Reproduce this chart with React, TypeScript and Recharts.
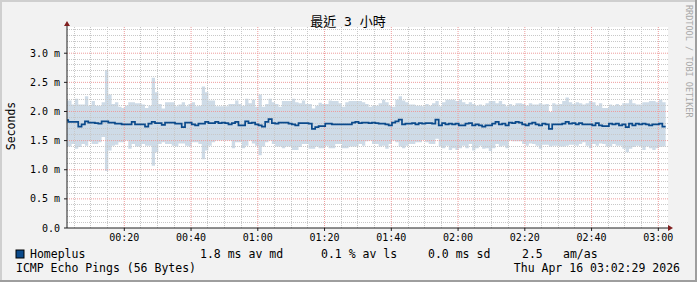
import React from 'react';
import { ComposedChart, Area, Line, XAxis, YAxis, CartesianGrid, ReferenceLine } from 'recharts';

// one bin per minute, first bin starts at 00:02:12
const START_MIN = 2.2;
const STEP_MIN = 1;

// smoke upper edge (ms)
const smokeHigh = [
  2.19, 2.19, 2.12, 2.22, 2.12, 2.12, 2.26, 2.10, 2.18, 2.10,
  2.10, 2.16, 2.71, 2.29, 2.13, 2.16, 2.08, 2.06, 2.10, 2.16,
  2.16, 2.14, 2.14, 2.12, 2.06, 2.10, 2.58, 2.33, 2.13, 2.05,
  2.16, 2.16, 2.16, 2.09, 2.12, 2.16, 2.09, 2.13, 2.16, 2.09,
  2.10, 2.43, 2.33, 2.19, 2.19,
  2.09, 2.09, 2.09, 2.09, 2.13, 2.13, 2.19, 2.13, 2.10, 2.22,
  2.14, 2.20, 2.08, 2.29, 2.08, 2.13, 2.22, 2.16, 2.13, 2.08,
  2.18, 2.18, 2.18, 2.22, 2.16, 2.14, 2.19, 2.13, 2.13, 2.05,
  2.10, 2.15, 2.13, 2.13, 2.19, 2.18, 2.18, 2.14, 2.08, 2.16,
  2.18, 2.18, 2.18, 2.18, 2.16,
  2.13, 2.08, 2.10, 2.10, 2.14, 2.20, 2.16, 2.10, 2.08, 2.20,
  2.26, 2.19, 2.16, 2.12, 2.12, 2.10, 2.10, 2.09, 2.13, 2.10,
  2.14, 2.18, 2.09, 2.16, 2.20, 2.20, 2.20, 2.18, 2.20, 2.16,
  2.13, 2.16, 2.13, 2.10, 2.12, 2.10, 2.14, 2.18, 2.18, 2.14,
  2.18, 2.13, 2.09, 2.13, 2.10,
  2.14, 2.14, 2.13, 2.10, 2.14, 2.12, 2.12, 2.14, 2.12, 2.13,
  1.99, 2.14, 2.12, 2.13, 2.18, 2.24, 2.16, 2.13, 2.16, 2.14,
  2.12, 2.14, 2.18, 2.16, 2.10, 2.14, 2.06, 2.06, 2.12, 2.10,
  2.13, 2.10, 2.14, 2.14, 2.20, 2.14, 2.12, 2.12, 2.16, 2.16,
  2.18, 2.18, 2.16, 2.20, 2.16,
];

// smoke lower edge (ms)
const smokeLow = [
  1.40, 1.40, 1.44, 1.36, 1.39, 1.44, 1.41, 1.49, 1.44, 1.44,
  1.47, 1.56, 0.98, 1.33, 1.41, 1.43, 1.47, 1.47, 1.50, 1.36,
  1.44, 1.40, 1.40, 1.44, 1.41, 1.41, 1.07, 1.30, 1.44, 1.47,
  1.44, 1.44, 1.41, 1.40, 1.45, 1.45, 1.41, 1.40, 1.47, 1.47,
  1.44, 1.18, 1.33, 1.41, 1.47,
  1.50, 1.50, 1.50, 1.50, 1.50, 1.37, 1.47, 1.47, 1.37, 1.41,
  1.50, 1.45, 1.41, 1.25, 1.40, 1.47, 1.50, 1.44, 1.40, 1.40,
  1.37, 1.40, 1.40, 1.34, 1.34, 1.39, 1.44, 1.44, 1.36, 1.36,
  1.40, 1.37, 1.37, 1.41, 1.37, 1.37, 1.44, 1.44, 1.37, 1.37,
  1.40, 1.40, 1.40, 1.44, 1.41,
  1.49, 1.50, 1.44, 1.44, 1.40, 1.41, 1.36, 1.44, 1.50, 1.47,
  1.40, 1.37, 1.41, 1.44, 1.44, 1.47, 1.47, 1.51, 1.47, 1.44,
  1.44, 1.53, 1.40, 1.37, 1.41, 1.34, 1.37, 1.34, 1.37, 1.41,
  1.37, 1.44, 1.33, 1.37, 1.41, 1.36, 1.37, 1.32, 1.37, 1.44,
  1.40, 1.41, 1.37, 1.50, 1.49,
  1.49, 1.49, 1.44, 1.41, 1.45, 1.44, 1.41, 1.36, 1.43, 1.43,
  1.40, 1.41, 1.41, 1.40, 1.40, 1.41, 1.43, 1.43, 1.41, 1.44,
  1.47, 1.41, 1.37, 1.44, 1.41, 1.45, 1.44, 1.40, 1.40, 1.44,
  1.41, 1.41, 1.36, 1.30, 1.36, 1.39, 1.41, 1.40, 1.34, 1.40,
  1.37, 1.34, 1.37, 1.39, 1.40,
];

// median RTT (ms)
const median = [
  1.85, 1.82, 1.82, 1.82, 1.74, 1.78, 1.83, 1.81, 1.81, 1.80,
  1.79, 1.83, 1.83, 1.81, 1.81, 1.79, 1.79, 1.78, 1.78, 1.78,
  1.82, 1.78, 1.78, 1.78, 1.74, 1.79, 1.82, 1.80, 1.80, 1.77,
  1.81, 1.81, 1.81, 1.79, 1.79, 1.73, 1.81, 1.81, 1.78, 1.76,
  1.79, 1.79, 1.82, 1.80, 1.80,
  1.82, 1.80, 1.81, 1.80, 1.78, 1.80, 1.82, 1.76, 1.76, 1.83,
  1.80, 1.81, 1.78, 1.76, 1.74, 1.82, 1.87, 1.80, 1.79, 1.81,
  1.81, 1.81, 1.79, 1.78, 1.76, 1.80, 1.80, 1.80, 1.79, 1.70,
  1.73, 1.75, 1.75, 1.79, 1.79, 1.78, 1.78, 1.78, 1.78, 1.78,
  1.78, 1.81, 1.82, 1.80, 1.81,
  1.81, 1.80, 1.81, 1.80, 1.79, 1.79, 1.78, 1.76, 1.81, 1.83,
  1.86, 1.78, 1.79, 1.79, 1.80, 1.78, 1.80, 1.79, 1.80, 1.80,
  1.79, 1.86, 1.76, 1.80, 1.78, 1.79, 1.78, 1.79, 1.76, 1.76,
  1.79, 1.80, 1.76, 1.78, 1.76, 1.74, 1.76, 1.76, 1.79, 1.82,
  1.78, 1.79, 1.76, 1.81, 1.80,
  1.82, 1.81, 1.78, 1.76, 1.79, 1.81, 1.78, 1.76, 1.79, 1.78,
  1.70, 1.78, 1.78, 1.78, 1.79, 1.82, 1.79, 1.80, 1.78, 1.80,
  1.78, 1.78, 1.78, 1.76, 1.80, 1.76, 1.75, 1.75, 1.79, 1.78,
  1.79, 1.76, 1.78, 1.73, 1.79, 1.76, 1.79, 1.78, 1.79, 1.78,
  1.76, 1.78, 1.78, 1.79, 1.74,
];

const xTicks = [20, 40, 60, 80, 100, 120, 140, 160, 180];
const xMinor = [
  5, 10, 15, 25, 30, 35, 45, 50, 55, 65, 70, 75, 85, 90, 95, 105, 110, 115,
  125, 130, 135, 145, 150, 155, 165, 170, 175,
];
const yTicks = [0, 0.5, 1.0, 1.5, 2.0, 2.5, 3.0];
const yMinor = [
  0.1, 0.2, 0.3, 0.4, 0.6, 0.7, 0.8, 0.9, 1.1, 1.2, 1.3, 1.4, 1.6, 1.7, 1.8,
  1.9, 2.1, 2.2, 2.3, 2.4, 2.6, 2.7, 2.8, 2.9, 3.1, 3.2, 3.3, 3.4,
];

const MONO = '"DejaVu Sans Mono", "Noto Sans CJK TC", monospace';
const MEDIAN_COLOR = '#0b4a8b';
const SMOKE_COLOR = '#cedbe7';
const MAJOR_GRID = '#ee9c9c';
const MINOR_GRID = '#c8c8c8';

const data = median.map((m, i) => ({
  t: START_MIN + i * STEP_MIN,
  smoke: [smokeLow[i], smokeHigh[i]],
  median: m,
}));
const last = median.length - 1;
data.push({
  t: START_MIN + median.length * STEP_MIN,
  smoke: [smokeLow[last], smokeHigh[last]],
  median: median[last],
});

const fmtTime = (m: number) =>
  `${String(Math.floor(m / 60)).padStart(2, '0')}:${String(m % 60).padStart(2, '0')}`;
const fmtSec = (v: number) => (v === 0 ? '0.0' : `${v.toFixed(1)} m`);

export default function App() {
  return (
    <div
      style={{
        position: 'absolute',
        left: 0,
        top: 0,
        width: 697,
        height: 282,
        background: '#f2f2f2',
      }}
    >
      <ComposedChart
        width={697}
        height={282}
        data={data}
        margin={{ top: 27, right: 29, bottom: 24, left: 8 }}
      >
        <CartesianGrid horizontal={false} vertical={false} fill="#ffffff" />
        <XAxis
          dataKey="t"
          type="number"
          domain={[2.83, 182.9]}
          ticks={xTicks}
          interval={0}
          tickFormatter={fmtTime}
          allowDataOverflow
          height={30}
          tickSize={3}
          tickMargin={3}
          axisLine={{ stroke: '#1f1f1f' }}
          tickLine={{ stroke: '#1f1f1f' }}
          tick={{ fill: '#000', fontSize: 10, fontFamily: MONO }}
        />
        <YAxis
          type="number"
          domain={[0, 3.45]}
          ticks={yTicks}
          interval={0}
          tickFormatter={fmtSec}
          allowDataOverflow
          width={59}
          tickSize={3}
          tickMargin={4}
          axisLine={{ stroke: '#1f1f1f' }}
          tickLine={{ stroke: '#1f1f1f' }}
          tick={{ fill: '#000', fontSize: 10, fontFamily: MONO }}
        />
        <Area
          dataKey="smoke"
          type="stepAfter"
          stroke="none"
          fill={SMOKE_COLOR}
          fillOpacity={1}
          isAnimationActive={false}
          activeDot={false}
        />
        <CartesianGrid
          verticalValues={xMinor}
          horizontalValues={yMinor}
          stroke={MINOR_GRID}
          strokeDasharray="1 1"
          shapeRendering="crispEdges"
          zIndex={150}
        />
        {xTicks.map((t) => (
          <ReferenceLine
            key={`vx${t}`}
            x={t}
            stroke={MAJOR_GRID}
            strokeWidth={1}
            strokeDasharray="1 1"
            ifOverflow="hidden"
          />
        ))}
        {yTicks.slice(1).map((v) => (
          <ReferenceLine
            key={`hy${v}`}
            y={v}
            stroke={MAJOR_GRID}
            strokeWidth={1}
            strokeDasharray="1 1"
            ifOverflow="hidden"
          />
        ))}
        <Line
          dataKey="median"
          type="stepAfter"
          stroke={MEDIAN_COLOR}
          strokeWidth={1.7}
          dot={false}
          activeDot={false}
          isAnimationActive={false}
        />
      </ComposedChart>

      <svg
        width={697}
        height={282}
        style={{ position: 'absolute', left: 0, top: 0, pointerEvents: 'none' }}
        fontFamily={MONO}
      >
        {/* 3d frame */}
        <rect x={0} y={0} width={697} height={2} fill="#cfcfcf" />
        <rect x={0} y={0} width={2} height={282} fill="#cfcfcf" />
        <rect x={0} y={280} width={697} height={2} fill="#9e9e9e" />
        <rect x={695} y={0} width={2} height={282} fill="#9e9e9e" />

        {/* axis arrows */}
        <line x1={67} y1={24} x2={67} y2={27} stroke="#1f1f1f" />
        <polygon points="64,26 70,26 67,21" fill="#801f1f" />
        <line x1={668} y1={228} x2={671} y2={228} stroke="#1f1f1f" />
        <polygon points="668,225 668,231 673,228" fill="#801f1f" />

        <text x={348} y={21} fontSize={13} textAnchor="middle" dominantBaseline="central" fill="#000">
          最近 3 小時
        </text>
        <text
          x={11}
          y={126}
          fontSize={11.5}
          textAnchor="middle"
          dominantBaseline="central"
          fill="#000"
          transform="rotate(-90 11 126)"
        >
          Seconds
        </text>
        <text
          x={688.5}
          y={5}
          fontSize={8.5}
          textAnchor="start"
          dominantBaseline="central"
          fill="#a8a8a8"
          transform="rotate(90 688.5 5)"
        >
          RRDTOOL / TOBI OETIKER
        </text>

        {/* legend */}
        <rect x={16} y={250} width={8} height={8} fill={MEDIAN_COLOR} stroke="#000" strokeWidth={1} />
        <g fontSize={11.5} fill="#000" dominantBaseline="central">
          <text x={30} y={254}>Homeplus</text>
          <text x={200} y={254}>1.8 ms av md</text>
          <text x={321} y={254}>0.1 % av ls</text>
          <text x={428} y={254}>0.0 ms sd</text>
          <text x={522} y={254}>2.5</text>
          <text x={563} y={254}>am/as</text>
          <text x={16} y={268}>ICMP Echo Pings (56 Bytes)</text>
          <text x={680} y={268} textAnchor="end">Thu Apr 16 03:02:29 2026</text>
        </g>
      </svg>
    </div>
  );
}
